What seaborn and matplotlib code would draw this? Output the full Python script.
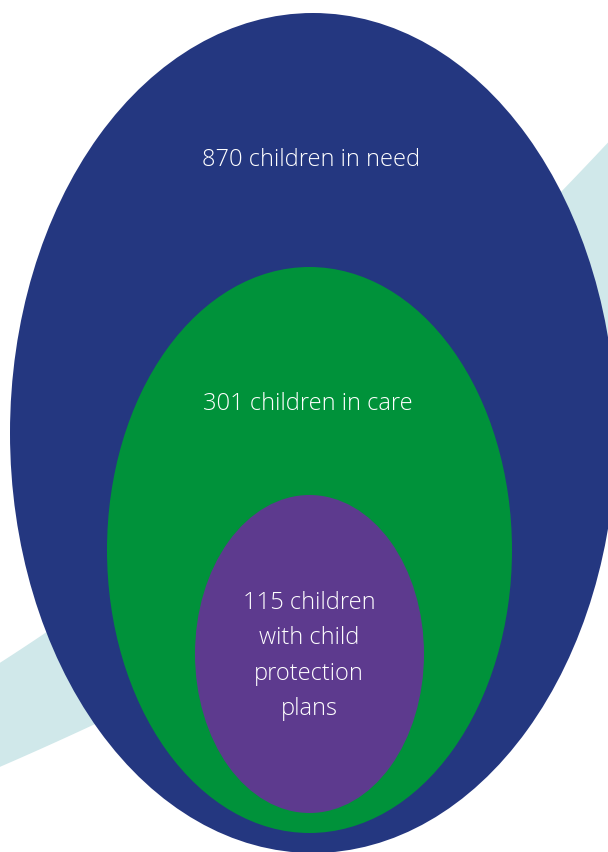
import matplotlib
matplotlib.use("Agg")
import matplotlib.pyplot as plt
from matplotlib.patches import Ellipse, Polygon
import numpy as np
import seaborn as sns

# data
groups = ["children in need", "children in care", "children with child protection plans"]
counts = [870, 301, 115]
labels = ["870 children in need",
          "301 children in care",
          "115 children\nwith child\nprotection\nplans"]

colors = ["#243780", "#00923A", "#5D3A8E"]
swoosh_color = "#D0E8EA"

# layout in pixel coords (x, y-down): centre x, centre y, width, height
ellipses = [(313, 433, 606, 840), (309.5, 550, 405, 566), (309.5, 654, 229, 318)]
text_pos = [(311, 160), (308, 404), (309, 656)]

sns.set_theme(style="white")
plt.rcParams["font.family"] = ["Open Sans", "DejaVu Sans"]

fig = plt.figure(figsize=(6.08, 8.52), dpi=100)
ax = fig.add_axes([0, 0, 1, 1])
ax.set_xlim(0, 608)
ax.set_ylim(852, 0)
ax.axis("off")


def bezier(p0, p1, p2, n=100):
    t = np.linspace(0, 1, n)[:, None]
    return (1 - t) ** 2 * np.array(p0) + 2 * t * (1 - t) * np.array(p1) + t ** 2 * np.array(p2)


upper = bezier((-5, 666), (317, 460), (640, 108))
lower = bezier((660, 400), (340, 620), (-5, 769))
ax.add_patch(Polygon(np.vstack([upper, lower]), closed=True,
                     facecolor=swoosh_color, edgecolor="none", zorder=1))

for (cx, cy, w, h), c in zip(ellipses, colors):
    ax.add_patch(Ellipse((cx, cy), w, h, facecolor=c, edgecolor="none", zorder=2))

for (x, y), lab in zip(text_pos, labels):
    ax.text(x, y, lab, ha="center", va="center", color="white",
            fontsize=17, fontweight="light", linespacing=1.62, zorder=3)

plt.savefig("out.png", dpi=100)
